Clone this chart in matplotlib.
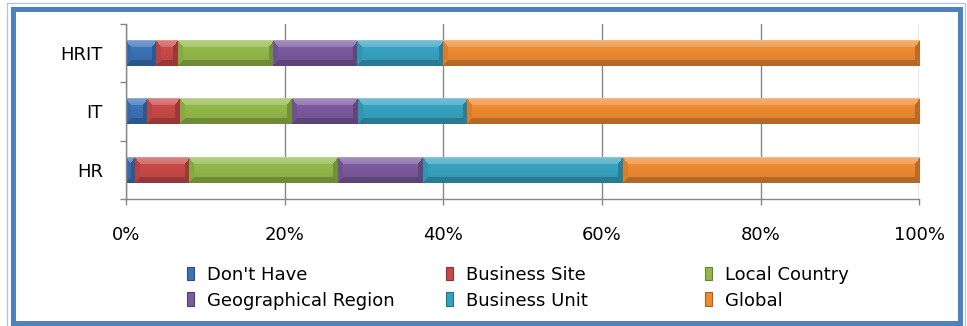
import matplotlib
matplotlib.use("Agg")
import matplotlib.pyplot as plt
import numpy as np
from matplotlib.colors import to_rgb
from matplotlib.patches import Rectangle
from matplotlib.ticker import PercentFormatter

# share of answers per category (percent of row)
categories = ["HR", "IT", "HRIT"]
series_names = ["Don't Have", "Business Site", "Local Country",
                "Geographical Region", "Business Unit", "Global"]
dont_have = [1.1, 2.7, 3.8]
business_site = [6.9, 4.1, 2.7]
local_country = [18.7, 14.1, 12.0]
geo_region = [10.7, 8.3, 10.6]
business_unit = [25.2, 13.8, 10.9]
global_ = [37.4, 57.0, 60.0]

series = [dont_have, business_site, local_country, geo_region, business_unit, global_]
colors = ["#3C72B8", "#C84A48", "#93B84A", "#7B5A9E", "#37A2C0", "#EE8A32"]

W, H, DPI = 967, 326, 100
fig = plt.figure(figsize=(W / DPI, H / DPI), dpi=DPI)
plt.rcParams["font.family"] = ["DejaVu Sans"]

# plot area in pixels
x0, x1, y0, y1 = 126, 919.5, 24, 199
ax = fig.add_axes([x0 / W, 1 - y1 / H, (x1 - x0) / W, (y1 - y0) / H])
px_per_x = (x1 - x0) / 100.0
px_per_y = (y1 - y0) / 3.0


def bevel(color, wpx, hpx):
    # simple mitred bevel: light top face, dark bottom and side faces
    base = np.array(to_rgb(color))
    wpx = max(int(round(wpx)), 1)
    hpx = max(int(round(hpx)), 1)
    yy, xx = np.mgrid[0:hpx, 0:wpx] + 0.5
    bt, bb, bs = 7.0, 6.0, 5.0
    d = np.stack([yy / bt, (hpx - yy) / bb, xx / bs, (wpx - xx) / bs])
    face = d.argmin(0)
    on = d.min(0) < 1
    f = 0.04 - 0.12 * (yy / hpx)
    shades = np.array([0.24, -0.24, -0.08, -0.22])
    f = np.where(on, shades[face], f)
    f = np.where(on & (face == 0), 0.20 + 0.12 * (1 - yy / bt), f)
    f = np.where(yy < 1, 0.40, f)
    f = f[..., None]
    img = np.where(f > 0, base + (1 - base) * f, base * (1 + f))
    return np.clip(img, 0, 1)


ypos = np.arange(len(categories))
lefts = np.zeros(len(categories))
bar_h = 0.44
for vals, col in zip(series, colors):
    bars = ax.barh(ypos, vals, left=lefts, height=bar_h, color=col, zorder=2)
    for r in bars:
        bx, by, bw, bh = r.get_x(), r.get_y(), r.get_width(), r.get_height()
        img = bevel(col, bw * px_per_x, bh * px_per_y)
        ax.imshow(img, extent=[bx, bx + bw, by, by + bh], origin="upper",
                  aspect="auto", interpolation="nearest", zorder=3)
    lefts += np.array(vals)

ax.set_xlim(0, 100)
ax.set_ylim(-0.5, 2.5)
ax.set_xticks(np.arange(0, 101, 20))
ax.xaxis.set_major_formatter(PercentFormatter(xmax=100, decimals=0))
ax.set_yticks(ypos)
ax.set_yticklabels(categories)
ax.set_yticks(np.arange(-0.5, 3, 1), minor=True)
ax.tick_params(axis="y", which="major", length=0, pad=16.5, labelsize=13)
ax.tick_params(axis="y", which="minor", length=4.3, width=1.0, color="#868686")
ax.tick_params(axis="x", length=4.3, width=1.0, color="#868686", pad=15, labelsize=13)
ax.grid(axis="x", color="#868686", lw=1.0, zorder=0)
ax.set_axisbelow(True)
for s in ["top", "right"]:
    ax.spines[s].set_visible(False)
for s in ["left", "bottom"]:
    ax.spines[s].set_color("#868686")
    ax.spines[s].set_linewidth(1.0)
    ax.spines[s].set_zorder(4)

# legend, three columns by two rows
col_x = [187, 446, 705]
row_base = [280, 305.5]
for i, (name, col) in enumerate(zip(series_names, colors)):
    cx = col_x[i % 3]
    by = row_base[i // 3]
    rgb = np.array(to_rgb(col))
    fig.patches.append(Rectangle((cx / W, 1 - by / H), 7 / W, 13.5 / H,
                                 transform=fig.transFigure, facecolor=col,
                                 edgecolor=tuple(rgb * 0.7), lw=0.8))
    fig.text((cx + 20) / W, 1 - by / H, name, fontsize=13, va="baseline", ha="left")

# blue frame round the chart
fig.patches.append(Rectangle((7 / W, 1 - 326 / H), 958 / W, 323 / H,
                             transform=fig.transFigure, fill=False,
                             edgecolor="#A9C4E6", lw=0.9))
fig.patches.append(Rectangle((12.5 / W, 1 - 323 / H), 947.5 / W, 314.5 / H,
                             transform=fig.transFigure, fill=False,
                             edgecolor="#4F81BD", lw=3.6))

fig.savefig("out.png", dpi=DPI)
